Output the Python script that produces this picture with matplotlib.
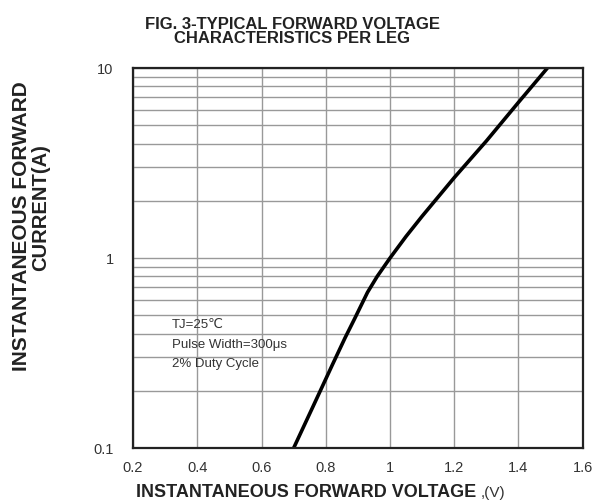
import matplotlib.pyplot as plt
from matplotlib.ticker import LogLocator, NullFormatter, FixedLocator

# Values (forward voltage vs current, log scale)
voltage = [0.70, 0.76, 0.82, 0.86, 0.89, 0.93, 0.96, 1.00, 1.05, 1.10, 1.20, 1.30, 1.40, 1.49]
current = [0.10, 0.165, 0.273, 0.38, 0.48, 0.66, 0.80, 1.00, 1.30, 1.66, 2.65, 4.13, 6.60, 10.0]

x_ticks = [0.2, 0.4, 0.6, 0.8, 1.0, 1.2, 1.4, 1.6]
x_labels = ['0.2', '0.4', '0.6', '0.8', '1', '1.2', '1.4', '1.6']
y_ticks = [0.1, 1, 10]
y_labels = ['0.1', '1', '10']
notes = ['TJ=25\u2103', 'Pulse Width=300\u03bcs', '2% Duty Cycle']

bold_font = ['Liberation Sans Narrow', 'Liberation Sans', 'DejaVu Sans']
plain_font = ['Liberation Sans', 'DejaVu Sans']

fig = plt.figure(figsize=(5.94, 5.04), dpi=100)
ax = fig.add_axes([0.224, 0.111, 0.757, 0.754])

ax.plot(voltage, current, color='black', linewidth=2.6,
        solid_capstyle='butt', solid_joinstyle='round')

ax.set_yscale('log')
ax.set_xlim(0.2, 1.6)
ax.set_ylim(0.1, 10)

ax.xaxis.set_major_locator(FixedLocator(x_ticks))
ax.set_xticklabels(x_labels)
ax.yaxis.set_major_locator(FixedLocator(y_ticks))
ax.set_yticklabels(y_labels)
ax.yaxis.set_minor_locator(LogLocator(base=10, subs=range(2, 10)))
ax.yaxis.set_minor_formatter(NullFormatter())

ax.grid(True, which='major', color='#999999', linewidth=1.0)
ax.grid(True, which='minor', axis='y', color='#999999', linewidth=1.0)
ax.tick_params(which='both', length=0, labelsize=10.5, colors='#333333')
ax.tick_params(axis='x', pad=9)
ax.tick_params(axis='y', pad=14)
for lbl in ax.get_xticklabels() + ax.get_yticklabels():
    lbl.set_family(plain_font)
for s in ax.spines.values():
    s.set_linewidth(1.6)
    s.set_color('#222222')

# test conditions
note_y = [0.324, 0.271, 0.221]
for t, yy in zip(notes, note_y):
    ax.text(0.087, yy, t, fontsize=9.5, color='#333333', family=plain_font,
            va='center', ha='left', transform=ax.transAxes)

# titles and axis labels
fig.text(0.492, 0.938, 'FIG. 3-TYPICAL FORWARD VOLTAGE\nCHARACTERISTICS PER LEG',
         ha='center', va='center', fontsize=12, fontweight='bold', family=bold_font,
         color='#222222', linespacing=0.95)
fig.text(22 / 594, 1 - 226 / 504, 'INSTANTANEOUS FORWARD', rotation=90,
         ha='center', va='center', fontsize=15, fontweight='bold', family=bold_font,
         color='#222222')
fig.text(41 / 594, 1 - 208 / 504, 'CURRENT(A)', rotation=90,
         ha='center', va='center', fontsize=14.5, fontweight='bold', family=bold_font,
         color='#222222')
fig.text(0.81, 0.022, 'INSTANTANEOUS FORWARD VOLTAGE ', ha='right', va='center',
         fontsize=13, fontweight='bold', family=bold_font, color='#222222')
fig.text(0.81, 0.022, ',(V)', ha='left', va='center', fontsize=11,
         family=plain_font, color='#333333')

plt.savefig('out.png', dpi=100)
